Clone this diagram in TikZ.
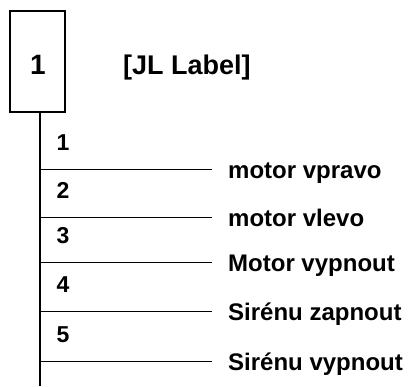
\documentclass[tikz,border=0pt]{standalone}
\usepackage{fontspec}
\setmainfont{Liberation Sans}
\begin{document}
\begin{tikzpicture}[x=1pt,y=-1pt,
  lbl/.style={font=\bfseries\fontsize{24}{26}\selectfont, anchor=base west, inner sep=0pt},
  num/.style={font=\bfseries\fontsize{23}{25}\selectfont, anchor=base, inner sep=0pt},
  big/.style={font=\bfseries\fontsize{28}{30}\selectfont, anchor=base, inner sep=0pt},
  rung/.style={line width=0.8pt}]
\useasboundingbox (0,0) rectangle (409,386);
\node[draw, line width=1.2pt, minimum width=55pt, minimum height=101pt, inner sep=0pt] (box) at (37.5,61.5) {};
\node[big] (boxnum) at (38,74) {1};
\node[big, anchor=base west, font=\bfseries\fontsize{27}{29}\selectfont] (jl) at (123,74) {[JL Label]};
\coordinate (bot) at (40,386);
\coordinate (top) at (40,112);
\draw[line width=1.2pt] (top) -- (bot);
\foreach \y/\n/\t [count=\i] in {169/1/motor vpravo, 217/2/motor vlevo, 262/3/Motor vypnout, 311/4/Sirénu zapnout, 361/5/Sirénu vypnout}{
  \coordinate (s\i) at (40,\y);
  \coordinate (e\i) at (212,\y);
  \draw[rung] (s\i) -- (e\i);
  \node[num] (n\i) at (63,\y-19) {\n};
  \node[lbl] (l\i) at (228,\y+9) {\t};
}
\end{tikzpicture}
\end{document}
